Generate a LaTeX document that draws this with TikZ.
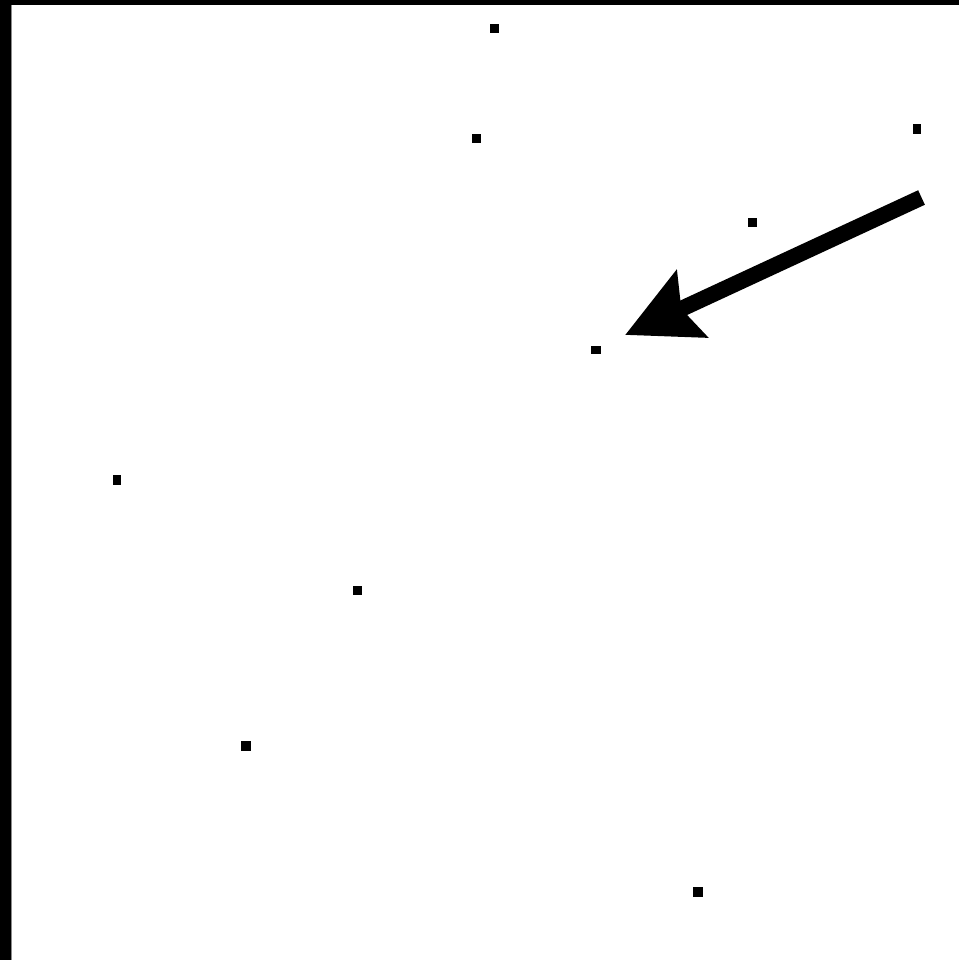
\documentclass[tikz,border=0pt]{standalone}
\usetikzlibrary{arrows.meta}
\tikzset{
  dot/.style={fill=black, draw=none, minimum width=9pt, minimum height=9pt, inner sep=0pt, outer sep=0pt, shape=rectangle},
  bigarrow/.style={line width=16pt, -{Stealth[length=73pt,width=72pt,inset=11pt]}}
}
\begin{document}
\begin{tikzpicture}[x=1pt,y=-1pt]
\useasboundingbox (0,0) rectangle (959,960);
\fill[white] (0,0) rectangle (959,960);
% frame
\fill[black] (0,0) rectangle (959,5);
\fill[black] (0,0) rectangle (11,960);
\fill[black!45] (11,5) rectangle (12,960);
% dots
\node[dot] (d1) at (494,29) {};
\node[dot] (d2) at (476,139) {};
\node[dot, minimum width=8pt, minimum height=10pt] (d3) at (917,129.5) {};
\node[dot] (d4) at (752,222) {};
\node[dot, minimum width=10pt, minimum height=8pt] (d5) at (596,350) {};
\node[dot, minimum width=8pt, minimum height=10pt] (d6) at (116.5,479.5) {};
\node[dot] (d7) at (357,590) {};
\node[dot, minimum width=10pt, minimum height=10pt] (d8) at (246,746) {};
\node[dot, minimum width=10pt, minimum height=10pt] (d9) at (698,892) {};
% arrow
\coordinate (tail) at (921.5,197.5);
\coordinate (tip) at (625,335);
\draw[bigarrow] (tail) -- (tip);
\end{tikzpicture}
\end{document}
